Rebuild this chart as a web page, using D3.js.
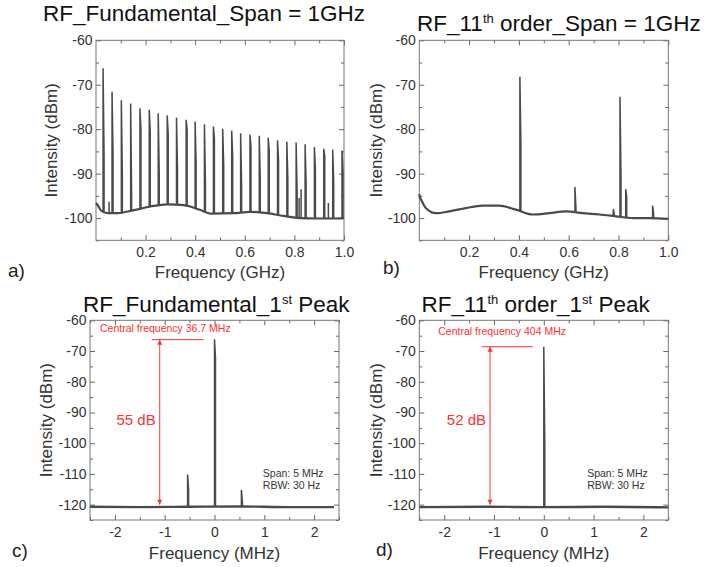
<!DOCTYPE html>
<html>
<head>
<meta charset="utf-8">
<script src="https://cdn.jsdelivr.net/npm/d3@7"></script>
<style>
body { margin: 0; background: #fff; }
svg text { font-family: "Liberation Sans", Arial, sans-serif; }
</style>
</head>
<body>
<svg id="chart" width="707" height="567"></svg>
<script>
// ---- values ----

// a) fundamental, 1 GHz span
var baseFreqA  = [0.0, 0.006, 0.02, 0.046, 0.086, 0.153, 0.22, 0.287, 0.354, 0.421, 0.461, 0.555, 0.622, 0.689, 0.756, 0.823, 0.89, 0.957, 1.0];
var baseLevelA = [-96.6, -97.0, -98.3, -98.9, -98.9, -98.2, -97.4, -96.9, -97.1, -98.2, -99.0, -98.9, -98.6, -98.9, -99.5, -100.0, -100.1, -100.1, -100.0];
var peakFreqA = [0.0285, 0.0647, 0.1022, 0.1397, 0.1772, 0.2147, 0.2509, 0.2871, 0.3246, 0.3635, 0.3997, 0.4372, 0.4734, 0.5109,
                 0.5471, 0.5832, 0.6208, 0.6583, 0.6945, 0.7320, 0.7695, 0.8070, 0.8432, 0.8807, 0.9183, 0.9545, 0.9920];
var peakTopA = [-66.3, -71.6, -73.5, -74.2, -75.3, -75.6, -76.4, -76.9, -77.4, -77.9, -78.3, -78.9, -79.4, -79.9,
                -80.3, -80.9, -81.2, -81.5, -81.9, -82.5, -82.8, -83.0, -83.4, -84.0, -84.4, -84.6, -84.8];
var peakShoulderA = [-85.8, -85.4, -90.3, -95.0, -80.0, -80.5, -89.9, -81.0, -89.0, -80.2, -87.6, -92.0, -82.0, -88.0,
                     -86.0, -93.0, -84.0, -91.0, -85.0, -87.0, -91.0, -94.0, -92.0, -89.0, -86.0, -92.0, -90.0];
var spurFreqA = [0.0526, 0.819, 0.827, 0.937];
var spurTopA  = [-96.3, -95.5, -93.5, -96.6];

// b) 11th order, 1 GHz span
var baseFreqB  = [0.0, 0.002, 0.007, 0.027, 0.067, 0.12, 0.187, 0.254, 0.32, 0.388, 0.455, 0.522, 0.589, 0.656, 0.723, 0.79, 0.857, 0.924, 1.0];
var baseLevelB = [-94.6, -95.2, -95.8, -97.8, -98.9, -98.5, -97.75, -97.2, -97.2, -98.1, -99.2, -98.9, -98.5, -98.9, -99.2, -99.6, -100.0, -100.0, -100.2];
var peakFreqB     = [0.404, 0.625, 0.779, 0.806, 0.829, 0.937];
var peakTopB      = [-68.2, -93.0, -98.0, -72.7, -93.5, -97.2];
var peakShoulderB = [-83.3, -97.5, -99.0, -90.6, -95.2, -99.0];

// c) fundamental, first peak (offset from 36.7 MHz)
var baseFreqC  = [-2.5, -1.5, -0.5, 0.5, 1.5, 2.4];
var baseLevelC = [-120.7, -120.8, -120.7, -120.6, -120.8, -120.8];
var peakFreqC     = [-0.54, 0.0, 0.54];
var peakTopC      = [-110.2, -66.2, -115.2];
var peakShoulderC = [-115.0, -72.3, -119.0];

// d) 11th order, first peak (offset from 404 MHz)
var baseFreqD  = [-2.5, -1.2, 0.0, 1.2, 2.5];
var baseLevelD = [-120.8, -120.7, -120.8, -120.7, -120.9];
var peakFreqD     = [0.0];
var peakTopD      = [-68.6];
var peakShoulderD = [-100.0];

// ticks
var xTicksGHz  = [0.2, 0.4, 0.6, 0.8, 1.0];
var xMinorGHz  = [0.1, 0.3, 0.5, 0.7, 0.9];
var yTicksGHz  = [-100, -90, -80, -70, -60];
var yMinorGHz  = [-105, -95, -85, -75, -65];
var xTicksMHz  = [-2, -1, 0, 1, 2];
var xMinorMHz  = [-2.5, -1.5, -0.5, 0.5, 1.5, 2.5];
var yTicksMHz  = [-120, -110, -100, -90, -80, -70, -60];
var yMinorMHz  = [-125, -115, -105, -95, -85, -75, -65];

// annotations
var centralText = ["Central frequency 36.7 MHz", "Central frequency 404 MHz"];
var dropText = ["55 dB", "52 dB"];
var spanText = ["Span: 5 MHz", "RBW: 30 Hz"];

// ---- drawing ----
var svg = d3.select("#chart");
var traceColor = "#4a4a4a";
var red = "#ff3030";

svg.append("defs").selectAll("marker")
   .data(["arrowUp", "arrowDown"])
   .enter().append("marker")
   .attr("id", d => d)
   .attr("viewBox", "0 0 10 10")
   .attr("refX", 5).attr("refY", d => d == "arrowUp" ? 0 : 10)
   .attr("markerWidth", 5).attr("markerHeight", 6)
   .attr("markerUnits", "userSpaceOnUse")
   .attr("orient", "0")
   .append("path")
   .attr("d", d => d == "arrowUp" ? "M0,10 L5,0 L10,10 Z" : "M0,0 L5,10 L10,0 Z")
   .attr("fill", red);

// plain hyphen for negative numbers, like the original
var fmtInt = d => String(d);

function drawPanel(p) {
    var g = svg.append("g");
    var x = d3.scaleLinear().domain(p.xDomain).range([p.left, p.right]);
    var y = d3.scaleLinear().domain(p.yDomain).range([p.bottom, p.top]);

    function styleAxis(sel) {
        sel.select(".domain").remove();
        sel.selectAll(".tick line").attr("stroke", "#666");
        sel.selectAll(".tick text").attr("fill", "#333").style("font-size", "14px")
           .style("font-family", '"Liberation Sans", Arial, sans-serif');
    }

    // bottom
    g.append("g").attr("transform", "translate(0," + p.bottom + ")")
     .call(d3.axisBottom(x).tickValues(p.xTicks).tickSize(-5).tickPadding(7).tickFormat(p.xFormat)).call(styleAxis);
    g.append("g").attr("transform", "translate(0," + p.bottom + ")")
     .call(d3.axisBottom(x).tickValues(p.xMinor).tickSize(-3).tickFormat("")).call(styleAxis);
    // top
    g.append("g").attr("transform", "translate(0," + p.top + ")")
     .call(d3.axisTop(x).tickValues(p.xTicks).tickSize(-5).tickFormat("")).call(styleAxis);
    g.append("g").attr("transform", "translate(0," + p.top + ")")
     .call(d3.axisTop(x).tickValues(p.xMinor).tickSize(-3).tickFormat("")).call(styleAxis);
    // left
    g.append("g").attr("transform", "translate(" + p.left + ",0)")
     .call(d3.axisLeft(y).tickValues(p.yTicks).tickSize(-5).tickPadding(3.5).tickFormat(fmtInt)).call(styleAxis);
    g.append("g").attr("transform", "translate(" + p.left + ",0)")
     .call(d3.axisLeft(y).tickValues(p.yMinor).tickSize(-3).tickFormat("")).call(styleAxis);
    // right
    g.append("g").attr("transform", "translate(" + p.right + ",0)")
     .call(d3.axisRight(y).tickValues(p.yTicks).tickSize(-5).tickFormat("")).call(styleAxis);
    g.append("g").attr("transform", "translate(" + p.right + ",0)")
     .call(d3.axisRight(y).tickValues(p.yMinor).tickSize(-3).tickFormat("")).call(styleAxis);

    g.append("rect")
     .attr("x", p.left).attr("y", p.top)
     .attr("width", p.right - p.left).attr("height", p.bottom - p.top)
     .attr("fill", "none").attr("stroke", "#777").attr("stroke-width", 1);

    // noise floor
    var base = d3.scaleLinear().domain(p.baseFreq).range(p.baseLevel).clamp(true);
    var line = d3.line().x(d => x(d[0])).y(d => y(d[1])).curve(d3.curveMonotoneX);
    g.append("path")
     .datum(p.baseFreq.map((f, i) => [f, p.baseLevel[i]]))
     .attr("d", line)
     .attr("fill", "none").attr("stroke", traceColor).attr("stroke-width", p.floorWidth);

    // peaks: a vertical line to the top, then a second line at the shoulder level
    var spike = d3.line().x(d => x(d[0])).y(d => y(d[1]));
    var e = p.eps;
    var peaks = p.peakFreq.map((f, i) => [f, p.peakTop[i], p.peakShoulder[i]]);
    if (p.spurFreq) p.spurFreq.forEach((f, i) => peaks.push([f, p.spurTop[i], null]));
    g.selectAll(".peak").data(peaks).enter().append("path")
     .attr("class", "peak")
     .attr("d", d => d[2] == null
         ? spike([[d[0], base(d[0])], [d[0], d[1]]])
         : spike([[d[0], base(d[0])], [d[0], d[1]], [d[0] + e, d[2]], [d[0] + e, base(d[0] + e)]]))
     .attr("fill", "none").attr("stroke", traceColor).attr("stroke-width", 1.5)
     .attr("stroke-linejoin", "bevel");

    // titles and labels
    var t = g.append("text").attr("x", p.titleX).attr("y", p.titleY)
             .style("font-size", "22.5px").attr("fill", "#111");
    p.title.forEach(function(part) {
        if (part.sup) {
            t.append("tspan").attr("dy", -8).style("font-size", "13px").text(part.sup);
        } else {
            t.append("tspan").attr("dy", part.down ? 8 : 0).text(part.text);
        }
    });

    g.append("text")
     .attr("transform", "translate(" + p.yLabelX + "," + ((p.top + p.bottom) / 2) + ") rotate(-90)")
     .attr("text-anchor", "middle").style("font-size", "17px").attr("fill", "#333")
     .text("Intensity (dBm)");
    g.append("text")
     .attr("x", (p.left + p.right) / 2).attr("y", p.xLabelY)
     .attr("text-anchor", "middle").style("font-size", "17px").attr("fill", "#333")
     .text(p.xLabel);
    g.append("text")
     .attr("x", p.tagX).attr("y", p.tagY)
     .style("font-size", "19px").attr("fill", "#222")
     .text(p.tag);

    if (p.annot) {
        var a = p.annot;
        g.append("text").attr("x", x(a.textX)).attr("y", y(a.textY))
         .style("font-size", "10.5px").attr("fill", red).text(a.central);
        g.append("line")
         .attr("x1", x(a.lineFrom)).attr("x2", x(a.lineTo))
         .attr("y1", y(a.top)).attr("y2", y(a.top))
         .attr("stroke", red).attr("stroke-width", 1);
        g.append("line")
         .attr("x1", x(a.arrowX)).attr("x2", x(a.arrowX))
         .attr("y1", y(a.top)).attr("y2", y(a.floor))
         .attr("stroke", red).attr("stroke-width", 1)
         .attr("marker-start", "url(#arrowUp)").attr("marker-end", "url(#arrowDown)");
        g.append("text").attr("x", x(a.arrowX) - 4).attr("y", y(a.dropY))
         .attr("text-anchor", "end").style("font-size", "15px").attr("fill", red).text(a.drop);
        g.selectAll(".span").data(spanText).enter().append("text")
         .attr("x", x(a.spanX)).attr("y", (d, i) => y(a.spanY) + i * 12.5)
         .style("font-size", "10.5px").attr("fill", "#333").text(d => d);
    }
}

var fmtGHz = d3.format(".1f");

drawPanel({
    left: 96, right: 344, top: 40.3, bottom: 240.3,
    xDomain: [0, 1], yDomain: [-105, -60],
    xTicks: xTicksGHz, xMinor: xMinorGHz, yTicks: yTicksGHz, yMinor: yMinorGHz, xFormat: fmtGHz,
    baseFreq: baseFreqA, baseLevel: baseLevelA,
    peakFreq: peakFreqA, peakTop: peakTopA, peakShoulder: peakShoulderA,
    spurFreq: spurFreqA, spurTop: spurTopA,
    eps: 0.004, floorWidth: 2.2,
    title: [{text: "RF_Fundamental_Span = 1GHz"}], titleX: 43, titleY: 21,
    yLabelX: 57, xLabelY: 278, xLabel: "Frequency (GHz)",
    tag: "a)", tagX: 8, tagY: 277
});

drawPanel({
    left: 419.3, right: 668.3, top: 40.3, bottom: 240.3,
    xDomain: [0, 1], yDomain: [-105, -60],
    xTicks: xTicksGHz, xMinor: xMinorGHz, yTicks: yTicksGHz, yMinor: yMinorGHz, xFormat: fmtGHz,
    baseFreq: baseFreqB, baseLevel: baseLevelB,
    peakFreq: peakFreqB, peakTop: peakTopB, peakShoulder: peakShoulderB,
    eps: 0.004, floorWidth: 2.2,
    title: [{text: "RF_11"}, {sup: "th"}, {text: " order_Span = 1GHz", down: true}], titleX: 417, titleY: 31,
    yLabelX: 382, xLabelY: 278, xLabel: "Frequency (GHz)",
    tag: "b)", tagX: 383, tagY: 274
});

drawPanel({
    left: 90, right: 339, top: 320.3, bottom: 520,
    xDomain: [-2.5, 2.5], yDomain: [-125, -60],
    xTicks: xTicksMHz, xMinor: xMinorMHz, yTicks: yTicksMHz, yMinor: yMinorMHz, xFormat: fmtInt,
    baseFreq: baseFreqC, baseLevel: baseLevelC,
    peakFreq: peakFreqC, peakTop: peakTopC, peakShoulder: peakShoulderC,
    eps: 0.02, floorWidth: 2.4,
    title: [{text: "RF_Fundamental_1"}, {sup: "st"}, {text: " Peak", down: true}], titleX: 83, titleY: 311.5,
    yLabelX: 52, xLabelY: 559, xLabel: "Frequency (MHz)",
    tag: "c)", tagX: 12, tagY: 557,
    annot: {central: centralText[0], textX: -2.3, textY: -63.9, lineFrom: -1.26, lineTo: -0.22,
            top: -66.3, floor: -120, arrowX: -1.1, drop: dropText[0], dropY: -94.2, spanX: 0.97, spanY: -110.9}
});

drawPanel({
    left: 419.3, right: 668.3, top: 320.3, bottom: 520,
    xDomain: [-2.5, 2.5], yDomain: [-125, -60],
    xTicks: xTicksMHz, xMinor: xMinorMHz, yTicks: yTicksMHz, yMinor: yMinorMHz, xFormat: fmtInt,
    baseFreq: baseFreqD, baseLevel: baseLevelD,
    peakFreq: peakFreqD, peakTop: peakTopD, peakShoulder: peakShoulderD,
    eps: 0.02, floorWidth: 2.4,
    title: [{text: "RF_11"}, {sup: "th"}, {text: " order_1", down: true}, {sup: "st"}, {text: " Peak", down: true}],
    titleX: 421.5, titleY: 311.5,
    yLabelX: 382, xLabelY: 559, xLabel: "Frequency (MHz)",
    tag: "d)", tagX: 376, tagY: 556,
    annot: {central: centralText[1], textX: -2.12, textY: -64.8, lineFrom: -1.25, lineTo: -0.22,
            top: -68.6, floor: -120, arrowX: -1.08, drop: dropText[1], dropY: -94.2, spanX: 0.87, spanY: -110.9}
});
</script>
</body>
</html>
